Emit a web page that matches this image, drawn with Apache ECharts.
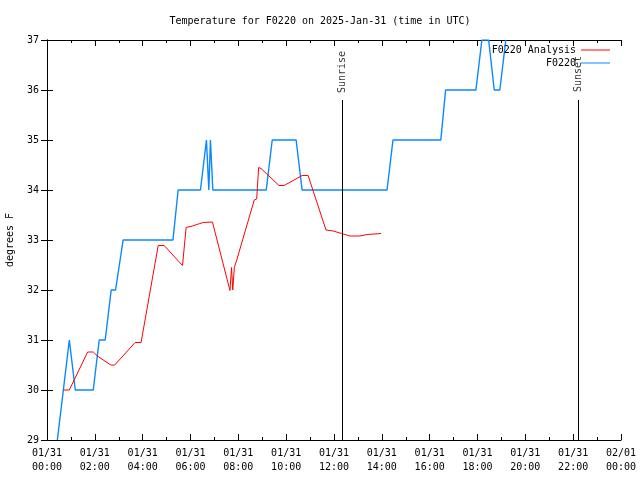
<!DOCTYPE html>
<html><head><meta charset="utf-8">
<script src="https://cdn.jsdelivr.net/npm/echarts@6/dist/echarts.min.js"></script>
<style>html,body{margin:0;padding:0;background:#fff}#c{width:640px;height:480px}</style>
</head><body><div id="c"></div>
<script>
// Observed F0220 (blue)
const obsTimes = ["00:26","00:41","00:56","01:11","01:56","02:11","02:26","02:41","02:52","03:11","05:16","05:29","06:25","06:40","06:46","06:50","06:56","09:10","09:25","10:25","10:40","14:13","14:28","16:28","16:40","17:56","18:11","18:28","18:42","18:56","19:11"];
const obsTemps = [29,30,31,30,30,31,31,32,32,33,33,34,34,35,34,35,34,34,35,35,34,34,35,35,36,36,37,37,36,36,37];
// F0220 Analysis (red)
const anaTimes = ["00:41","00:56","01:42","01:56","02:08","02:40","02:50","03:41","03:56","04:39","04:54","05:40","05:44","05:49","06:05","06:20","06:32","06:55","07:39","07:43","07:46","07:50","07:56","08:40","08:46","08:51","08:57","09:42","09:55","10:40","10:55","11:40","11:58","12:19","12:40","13:05","13:23","13:58"];
const anaTemps = [30.0,30.0,30.76,30.76,30.67,30.5,30.5,30.95,30.95,32.89,32.89,32.49,32.49,33.25,33.28,33.32,33.35,33.36,31.99,32.45,32.0,32.45,32.6,33.8,33.82,34.45,34.43,34.09,34.09,34.29,34.29,33.2,33.18,33.13,33.08,33.08,33.11,33.13];
// Sun events
const sunNames = ["Sunrise","Sunset"];
const sunTimes = ["12:20","22:12"];
const sunLineTop = 35.8;
const sunLabelY = [36.36,36.32];
const titleText = "Temperature for F0220 on 2025-Jan-31 (time in UTC)";

function toH(s){const p=s.split(':').map(Number);return p[0]+p[1]/60;}
function pad(n){return (n<10?'0':'')+n;}
const FONT = "DejaVu Sans Mono";
const obsData = obsTimes.map((t,i)=>[toH(t),obsTemps[i]]);
const anaData = anaTimes.map((t,i)=>[toH(t),anaTemps[i]]);

const chart = echarts.init(document.getElementById('c'), null, {renderer:'canvas'});
const xBase = {type:'value',min:0,max:24,interval:2,
  minorTick:{show:true,splitNumber:2,length:3,lineStyle:{color:'#000'}},
  axisTick:{show:true,inside:true,length:6,lineStyle:{color:'#000'}},
  axisLine:{show:true,lineStyle:{color:'#000',width:1}},
  splitLine:{show:false}};
const yBase = {type:'value',min:29,max:37,interval:1,
  axisTick:{show:true,inside:true,length:6,lineStyle:{color:'#000'}},
  axisLine:{show:true,lineStyle:{color:'#000',width:1}},
  splitLine:{show:false}};

const sunLines = sunTimes.map(t=>[{coord:[toH(t),sunLineTop]},{coord:[toH(t),29]}]);
const sunLabels = sunTimes.map((t,i)=>({value:[toH(t),sunLabelY[i]],name:sunNames[i]}));
const legText = {fontFamily:FONT,fontSize:10,color:'#000'};

chart.setOption({
  animation:false,
  backgroundColor:'#fff',
  title:{text:titleText,left:'center',top:11,textStyle:{fontFamily:FONT,fontSize:10,fontWeight:'normal',color:'#000'}},
  grid:{left:47,right:19,top:40,bottom:40,show:false,containLabel:false,outerBoundsMode:'none'},
  legend:[
    {data:[{name:'F0220 Analysis',icon:'rect'}],right:30,top:45,padding:0,orient:'vertical',align:'right',itemWidth:29,itemHeight:1,itemGap:0,textStyle:legText},
    {data:[{name:'F0220',icon:'rect'}],right:30,top:58,padding:0,orient:'vertical',align:'right',itemWidth:29,itemHeight:1,itemGap:0,textStyle:legText}
  ],
  xAxis:[
    Object.assign({},xBase,{position:'bottom',
      axisLabel:{show:true,fontFamily:FONT,fontSize:10,color:'#000',lineHeight:14,margin:6,
        formatter:v=>(v>=24?'02/01':'01/31')+'\n'+pad(v%24)+':00'}}),
    Object.assign({},xBase,{position:'top',axisLabel:{show:false}})
  ],
  yAxis:[
    Object.assign({},yBase,{position:'left',name:'degrees F',nameLocation:'middle',nameGap:32,nameRotate:90,
      nameTextStyle:{fontFamily:FONT,fontSize:10,color:'#000'},
      axisLabel:{show:true,fontFamily:FONT,fontSize:10,color:'#000',margin:8}}),
    Object.assign({},yBase,{position:'right',axisLabel:{show:false}})
  ],
  series:[
    {name:'F0220 Analysis',type:'line',data:anaData,symbol:'none',z:3,
     lineStyle:{color:'#ff0000',width:1},itemStyle:{color:'#ff0000'}},
    {name:'F0220',type:'line',data:obsData,symbol:'none',z:2,clip:true,
     lineStyle:{color:'#0a88ff',width:1.4},itemStyle:{color:'#0a88ff'}},
    {name:'sun',type:'line',data:[],symbol:'none',
     markLine:{silent:true,symbol:['none','none'],label:{show:false},
       lineStyle:{color:'#000',width:1,type:'solid'},data:sunLines}},
    {name:'sunlabels',type:'scatter',data:sunLabels,symbolSize:0,
     label:{show:true,position:'inside',rotate:90,formatter:p=>p.name,fontFamily:FONT,fontSize:10,color:'#000'}}
  ]
});
</script></body></html>
